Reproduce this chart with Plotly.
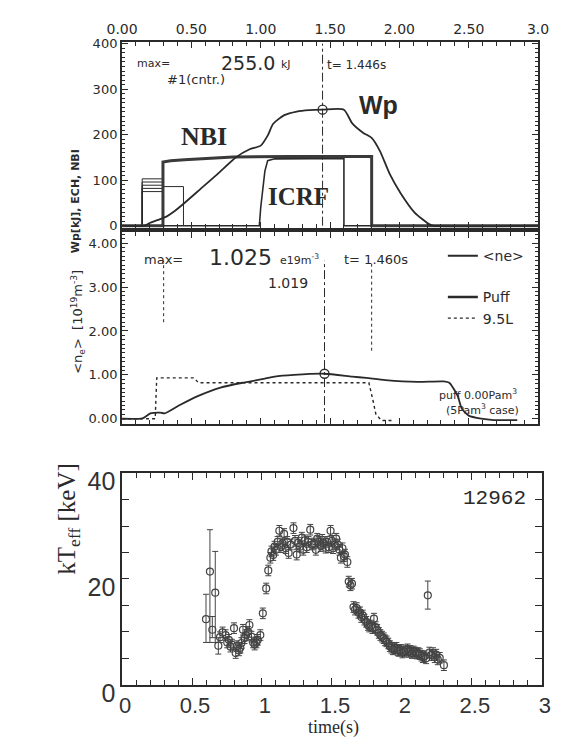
import plotly.graph_objects as go

# ---------------- data ----------------
# top panel: stored energy Wp [kJ], NBI, ICRF, ECH
wp_t = [0.00, 0.16, 0.20, 0.27, 0.32, 0.37, 0.45, 0.57, 0.69, 0.82, 0.92, 1.00, 1.05, 1.09,
        1.17, 1.26, 1.35, 1.446, 1.60, 1.66, 1.74, 1.80, 1.86, 1.93, 2.01, 2.11, 2.21, 2.24, 3.00]
wp_v = [0, 0, 6, 14, 20, 30, 50, 82, 114, 150, 168, 176, 198, 224,
        243, 251, 254, 255, 255, 225, 204, 193, 164, 114, 71, 29, 4, 0, 0]

nbi_t = [0.00, 0.295, 0.295, 0.35, 0.45, 0.60, 0.80, 1.20, 1.80, 1.80, 3.00]
nbi_v = [0, 0, 140, 143, 145, 148, 151, 152, 152, 0, 0]

icrf_t = [0.00, 0.99, 1.00, 1.03, 1.05, 1.10, 1.60, 1.60, 3.00]
icrf_v = [0, 0, 40, 120, 143, 147, 148, 0, 0]

ech_on = [0.145, 0.145, 0.145, 0.145, 0.145, 0.295]
ech_off = [0.295, 0.295, 0.295, 0.295, 0.295, 0.443]
ech_pow = [103, 96, 89, 82, 75, 86]

wp_max_t = 1.446
wp_max = 255.0

# middle panel: line averaged density [1e19 m^-3]
ne_t = [0.00, 0.147, 0.204, 0.273, 0.307, 0.41, 0.55, 0.71, 0.87, 1.01, 1.10, 1.24, 1.46,
        1.66, 1.76, 1.90, 2.13, 2.32, 2.36, 2.42, 2.45, 2.50, 2.59, 2.68, 2.85]
ne_v = [0.0, 0.01, 0.12, 0.14, 0.12, 0.30, 0.52, 0.71, 0.82, 0.90, 0.96, 1.00, 1.025,
        0.96, 0.93, 0.88, 0.84, 0.85, 0.82, 0.52, 0.23, 0.07, 0.0, -0.03, -0.03]

g95_t = [0.00, 0.239, 0.25, 0.52, 0.55, 1.78, 1.81, 1.83, 1.87, 1.95]
g95_v = [0.0, 0.0, 0.93, 0.93, 0.82, 0.82, 0.41, 0.11, -0.04, -0.04]

ne_max_t = 1.460
ne_max = 1.025

# bottom panel: effective temperature kT_eff [keV], shot 12962
kt_t = [0.600, 0.628, 0.645, 0.666, 0.688, 0.700, 0.718, 0.740, 0.752, 0.763, 0.775, 0.785,
        0.800, 0.812, 0.820, 0.835, 0.845, 0.853, 0.864, 0.875, 0.887, 0.900, 0.910, 0.925,
        0.937, 0.948, 0.960, 0.970, 0.988, 1.006, 1.030, 1.045, 1.060, 1.068, 1.080, 1.090,
        1.100, 1.112, 1.124, 1.135, 1.146, 1.158, 1.170, 1.180, 1.190, 1.205, 1.225, 1.236,
        1.248, 1.258, 1.270, 1.285, 1.295, 1.305, 1.320, 1.332, 1.345, 1.358, 1.372, 1.385,
        1.395, 1.406, 1.420, 1.430, 1.440, 1.455, 1.465, 1.478, 1.490, 1.500, 1.508, 1.520,
        1.530, 1.542, 1.553, 1.564, 1.575, 1.585, 1.593, 1.610, 1.620, 1.632, 1.643, 1.654,
        1.665, 1.677, 1.690, 1.700, 1.710, 1.720, 1.732, 1.745, 1.757, 1.767, 1.780, 1.790,
        1.800, 1.812, 1.823, 1.835, 1.846, 1.858, 1.870, 1.880, 1.890, 1.903, 1.914, 1.925,
        1.936, 1.948, 1.960, 1.970, 1.980, 1.992, 2.004, 2.016, 2.028, 2.040, 2.050, 2.060,
        2.072, 2.083, 2.094, 2.106, 2.117, 2.128, 2.140, 2.150, 2.162, 2.173, 2.185, 2.196,
        2.210, 2.222, 2.235, 2.245, 2.256, 2.270, 2.300]
kt_v = [12.4, 21.4, 10.4, 17.4, 7.4, 9.0, 9.9, 9.4, 8.0, 8.5, 7.2, 7.6,
        10.7, 6.0, 7.3, 6.5, 7.0, 7.9, 10.4, 8.8, 9.4, 10.0, 11.3, 9.1,
        8.0, 7.6, 8.0, 8.5, 9.4, 13.5, 18.2, 21.6, 24.0, 25.2, 24.5, 26.1,
        25.5, 27.0, 29.1, 26.0, 26.7, 28.5, 25.8, 27.0, 24.9, 26.5, 29.6, 27.2,
        24.6, 26.8, 26.1, 27.8, 25.5, 27.3, 26.0, 27.0, 29.3, 26.5, 26.7, 25.5,
        27.6, 27.0, 26.2, 27.4, 26.7, 25.9, 27.0, 26.0, 29.1, 27.2, 25.8, 26.5,
        27.6, 26.5, 25.5, 24.0, 25.8, 24.3, 24.6, 23.2, 19.5, 18.8, 19.1, 14.7,
        14.2, 14.5, 13.6, 13.7, 12.8, 13.1, 12.3, 11.9, 11.3, 11.0, 11.2, 10.7,
        12.5, 10.9, 10.4, 9.8, 9.4, 9.1, 8.8, 8.4, 8.2, 7.8, 7.3, 7.0,
        6.7, 6.9, 7.0, 6.5, 6.4, 6.6, 6.1, 6.3, 6.5, 6.7, 6.2, 6.4,
        6.0, 6.3, 6.1, 5.9, 6.0, 5.8, 5.5, 5.2, 5.4, 5.0, 16.9, 6.1,
        5.6, 6.0, 5.2, 5.7, 4.8, 5.1, 3.7]
# error bars: the first few early points have large (asymmetric) errors, the rest ~1 keV
kt_err_first_up = [4.7, 7.9, 2.5, 7.8, 1.5]
kt_err_first_dn = [4.4, 13.4, 1.5, 9.4, 1.6]
kt_err_typ = 1.0
kt_err_up = kt_err_first_up + [kt_err_typ] * (len(kt_t) - len(kt_err_first_up))
kt_err_dn = kt_err_first_dn + [kt_err_typ] * (len(kt_t) - len(kt_err_first_dn))
for i, t in enumerate(kt_t):
    if abs(t - 2.185) < 1e-6:
        kt_err_up[i] = 2.7
        kt_err_dn[i] = 2.6

top_ticks = [0.0, 0.5, 1.0, 1.5, 2.0, 2.5, 3.0]
top_ticktext = ["0.00", "0.50", "1.00", "1.50", "2.00", "2.50", "3.0"]
wp_ticks = [0, 100, 200, 300, 400]
ne_ticks = [0, 1, 2, 3, 4]
ne_ticktext = ["0.00", "1.00", "2.00", "3.00", "4.00"]

INK = "#2a2a2a"
W, H = 562, 745

fig = go.Figure()

# ---------- top panel ----------
for on, off, p in zip(ech_on, ech_off, ech_pow):
    fig.add_trace(go.Scatter(x=[on, on, off, off], y=[0, p, p, 0], mode="lines",
                             line=dict(color=INK, width=1), showlegend=False,
                             xaxis="x", yaxis="y", hoverinfo="skip"))
fig.add_trace(go.Scatter(x=icrf_t, y=icrf_v, mode="lines", line=dict(color=INK, width=1.6),
                         showlegend=False, xaxis="x", yaxis="y"))
fig.add_trace(go.Scatter(x=nbi_t, y=nbi_v, mode="lines", line=dict(color="#3a3a3a", width=3),
                         showlegend=False, xaxis="x", yaxis="y"))
fig.add_trace(go.Scatter(x=wp_t, y=wp_v, mode="lines", line=dict(color=INK, width=1.8, shape="spline", smoothing=0.6),
                         showlegend=False, xaxis="x", yaxis="y"))
fig.add_trace(go.Scatter(x=[wp_max_t, wp_max_t], y=[0, 400], mode="lines",
                         line=dict(color=INK, width=1, dash="dashdot"), showlegend=False,
                         xaxis="x", yaxis="y"))
fig.add_trace(go.Scatter(x=[wp_max_t], y=[wp_max], mode="markers",
                         marker=dict(symbol="circle-open", size=9, color=INK, line=dict(width=1.3)),
                         showlegend=False, xaxis="x", yaxis="y"))

# ---------- middle panel ----------
fig.add_trace(go.Scatter(x=[0.30, 0.30], y=[2.2, 3.6], mode="lines",
                         line=dict(color=INK, width=1, dash="dot"), showlegend=False,
                         xaxis="x2", yaxis="y2"))
fig.add_trace(go.Scatter(x=[1.80, 1.80], y=[1.55, 3.6], mode="lines",
                         line=dict(color=INK, width=1, dash="dot"), showlegend=False,
                         xaxis="x2", yaxis="y2"))
fig.add_trace(go.Scatter(x=[ne_max_t, ne_max_t], y=[-0.1, 3.6], mode="lines",
                         line=dict(color=INK, width=1, dash="dashdot"), showlegend=False,
                         xaxis="x2", yaxis="y2"))
fig.add_trace(go.Scatter(x=ne_t, y=ne_v, mode="lines", name="&lt;ne&gt;",
                         line=dict(color=INK, width=1.8, shape="spline", smoothing=0.6),
                         legendgroup="a", xaxis="x2", yaxis="y2"))
fig.add_trace(go.Scatter(x=[None], y=[None], mode="lines", name="Puff",
                         line=dict(color=INK, width=2.4), legendgroup="b",
                         xaxis="x2", yaxis="y2"))
fig.add_trace(go.Scatter(x=g95_t, y=g95_v, mode="lines", name="9.5L",
                         line=dict(color=INK, width=1.4, dash="dot"), legendgroup="b",
                         xaxis="x2", yaxis="y2"))
fig.add_trace(go.Scatter(x=[ne_max_t], y=[ne_max], mode="markers",
                         marker=dict(symbol="circle-open", size=9, color=INK, line=dict(width=1.3)),
                         showlegend=False, xaxis="x2", yaxis="y2"))

# ---------- bottom panel ----------
fig.add_trace(go.Scatter(x=kt_t, y=kt_v, mode="markers",
                         marker=dict(symbol="circle-open", size=7, color="#444", line=dict(width=1.2)),
                         error_y=dict(type="data", array=kt_err_up, arrayminus=kt_err_dn,
                                      color="#444", thickness=1, width=3),
                         showlegend=False, xaxis="x3", yaxis="y3"))

XD = [103 / W, 540 / W]
XD3 = [103 / W, 544 / W]

def yd(top, bot):
    return [1 - bot / H, 1 - top / H]

frame = dict(showline=True, linecolor=INK, linewidth=2, mirror="allticks",
             ticks="inside", tickcolor=INK, showgrid=False, zeroline=False)

fig.update_layout(
    width=W, height=H, margin=dict(l=0, r=0, t=0, b=0),
    paper_bgcolor="white", plot_bgcolor="white",
    showlegend=True,
    legend=dict(x=440 / W, y=1 - 235 / H, xanchor="left", yanchor="top",
                bgcolor="rgba(0,0,0,0)", font=dict(family="DejaVu Sans", size=14, color=INK),
                traceorder="grouped", tracegroupgap=20, itemwidth=30),
    xaxis=dict(domain=XD, anchor="y", side="top", range=[0, 3], tickvals=top_ticks,
               ticktext=top_ticktext, ticklen=6, tickfont=dict(family="DejaVu Sans", size=14, color=INK),
               minor=dict(dtick=0.1, ticks="inside", ticklen=4, tickcolor=INK), **frame),
    yaxis=dict(domain=yd(29, 222), anchor="x", range=[-4.3, 404], tickvals=wp_ticks,
               ticklen=6, tickfont=dict(family="DejaVu Sans", size=13, color=INK),
               minor=dict(dtick=10, ticks="inside", ticklen=3, tickcolor=INK), **frame),
    xaxis2=dict(domain=XD, anchor="y2", range=[0, 3], tickvals=top_ticks, showticklabels=False,
                ticklen=6, minor=dict(dtick=0.1, ticks="inside", ticklen=4, tickcolor=INK), **frame),
    yaxis2=dict(domain=yd(227, 426), anchor="x2", range=[-0.12, 4.245], tickvals=ne_ticks,
                ticktext=ne_ticktext, ticklen=6,
                tickfont=dict(family="DejaVu Sans", size=13, color=INK),
                minor=dict(dtick=0.1, ticks="inside", ticklen=3, tickcolor=INK), **frame),
    xaxis3=dict(domain=XD3, anchor="y3", range=[0, 3], dtick=0.5, ticklen=7,
                tickfont=dict(family="Liberation Sans", size=22, color="#333"),
                ticklabelshift=3, ticklabelstandoff=0,
                minor=dict(dtick=0.1, ticks="inside", ticklen=5, tickcolor=INK),
                showline=True, linecolor=INK, linewidth=1.5, mirror="allticks",
                ticks="inside", tickcolor=INK, showgrid=False, zeroline=False),
    yaxis3=dict(domain=yd(477, 697), anchor="x3", range=[0, 40], dtick=20, ticklen=7,
                tickfont=dict(family="Liberation Sans", size=25, color="#333"),
                ticklabelshift=8,
                minor=dict(dtick=5, ticks="inside", ticklen=7, tickcolor=INK),
                showline=True, linecolor=INK, linewidth=1.5, mirror="allticks",
                ticks="inside", tickcolor=INK, showgrid=False, zeroline=False),
)

ann = []
def A(text, x, y, xref, yref, size=12, family="DejaVu Sans", **kw):
    ann.append(dict(text=text, x=x, y=y, xref=xref, yref=yref, showarrow=False,
                    font=dict(family=family, size=size, color=INK), **kw))

# top panel texts
A("max=", 0.23, 356, "x", "y", size=11)
A("255.0", 0.91, 358, "x", "y", size=19)
A("kJ", 1.18, 354, "x", "y", size=11)
A("t= 1.446s", 1.69, 354, "x", "y", size=12)
A("#1(cntr.)", 0.53, 322, "x", "y", size=13)
A("<b>NBI</b>", 0.59, 196, "x", "y", size=26, family="Liberation Serif")
A("<b>ICRF</b>", 1.27, 65, "x", "y", size=25, family="Liberation Serif")
A("<b>Wp</b>", 1.85, 265, "x", "y", size=25, family="Liberation Sans")
A("<b>Wp[kJ], ECH, NBI</b>", 45 / W, 1 - 138 / H, "paper", "paper", size=11, textangle=-90)

# middle panel texts
A("max=", 0.30, 3.62, "x2", "y2", size=13)
A("1.025", 0.855, 3.68, "x2", "y2", size=22)
A("e19m<sup>-3</sup>", 1.28, 3.62, "x2", "y2", size=11)
A("t= 1.460s", 1.83, 3.62, "x2", "y2", size=13)
A("1.019", 1.20, 3.09, "x2", "y2", size=14)
A("puff 0.00Pam<sup>3</sup>", 2.57, 0.55, "x2", "y2", size=11)
A("(5Pam<sup>3</sup> case)", 2.60, 0.22, "x2", "y2", size=11)
A("&lt;n<sub>e</sub>&gt;  [10<sup>19</sup>m<sup>-3</sup>]", 45 / W, 1 - 320 / H, "paper", "paper",
  size=13, textangle=-90)

# bottom panel texts
A("12962", 2.66, 35.2, "x3", "y3", size=21, family="Liberation Mono")
A("kT<sub>eff</sub> [keV]", 28 / W, 1 - 585 / H, "paper", "paper", size=25,
  family="Liberation Serif", textangle=-90)
A("time(s)", 325 / W, 1 - 741 / H, "paper", "paper", size=18, family="Liberation Serif",
  yanchor="middle")

fig.update_layout(annotations=ann)
fig.write_html("out.html")
